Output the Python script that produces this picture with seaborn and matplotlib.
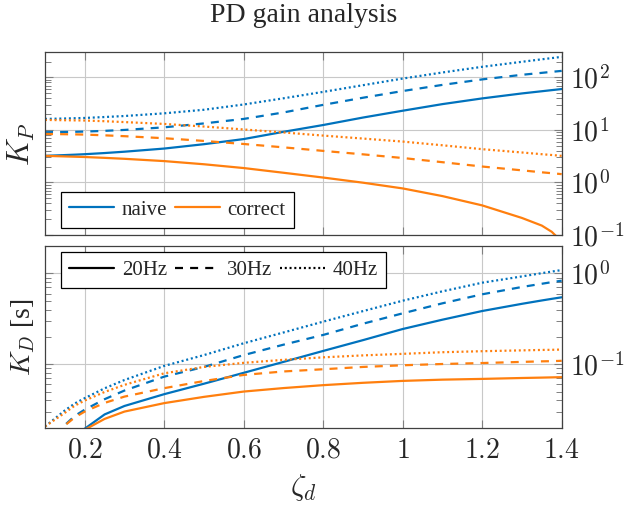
import matplotlib
matplotlib.use("Agg")
import matplotlib.pyplot as plt
from matplotlib.lines import Line2D
from matplotlib.ticker import FixedLocator, FuncFormatter, LogLocator, NullFormatter
import numpy as np
import pandas as pd
import seaborn as sns

# ---------------- data ----------------
zeta = [0.100, 0.150, 0.175, 0.200, 0.250, 0.300, 0.400, 0.500, 0.600, 0.700,
        0.800, 0.900, 1.000, 1.100, 1.200, 1.300, 1.350, 1.375, 1.400]

# K_P
kp_naive_20 = [3.21, 3.32, 3.38, 3.45, 3.63, 3.85, 4.42, 5.35, 6.7, 9.2,
               12.4, 17.2, 23.2, 31, 39.8, 49.5, 54.5, 57.2, 60]
kp_naive_30 = [9.04, 9.15, 9.22, 9.3, 9.6, 10.0, 11.2, 13.3, 16.2, 21.5,
               30, 41, 55, 72, 91.6, 112, 122, 127.5, 133]
kp_naive_40 = [16.2, 16.5, 16.7, 16.9, 17.6, 18.4, 20.7, 24.2, 30.5, 40,
               53, 71, 95, 124, 159, 198, 221, 233, 246]
kp_correct_20 = [3.21, 3.13, 3.09, 3.05, 2.94, 2.82, 2.55, 2.22, 1.88, 1.53,
                 1.24, 0.99, 0.77, 0.55, 0.366, 0.211, 0.151, 0.115, 0.075]
kp_correct_30 = [8.4, 8.28, 8.22, 8.15, 7.89, 7.6, 6.95, 6.17, 5.4, 4.66,
                 3.99, 3.43, 2.92, 2.43, 2.01, 1.70, 1.56, 1.50, 1.44]
kp_correct_40 = [15.5, 15.3, 15.2, 15.1, 14.65, 14.1, 13.0, 11.6, 10.2, 8.95,
                 7.8, 6.85, 6.0, 5.1, 4.3, 3.72, 3.45, 3.33, 3.21]

# K_D [s]
kd_naive_20 = [0.003, 0.008, 0.013, 0.0195, 0.028, 0.0347, 0.0468, 0.061, 0.0804, 0.106,
               0.140, 0.184, 0.244, 0.309, 0.385, 0.462, 0.503, 0.524, 0.545]
kd_naive_30 = [0.008, 0.0214, 0.027, 0.0316, 0.0412, 0.0513, 0.0730, 0.0933, 0.126, 0.164,
               0.210, 0.279, 0.363, 0.468, 0.588, 0.708, 0.768, 0.80, 0.83]
kd_naive_40 = [0.0206, 0.031, 0.037, 0.0423, 0.0543, 0.067, 0.0958, 0.126, 0.170, 0.2234,
               0.294, 0.384, 0.50, 0.634, 0.789, 0.925, 1.005, 1.046, 1.087]
kd_correct_20 = [0.003, 0.008, 0.013, 0.0190, 0.025, 0.0301, 0.0373, 0.0437, 0.050, 0.0546,
                 0.0588, 0.0624, 0.0655, 0.0676, 0.0689, 0.0705, 0.0712, 0.0716, 0.072]
kd_correct_30 = [0.008, 0.0212, 0.026, 0.0301, 0.0375, 0.044, 0.0545, 0.0653, 0.0762, 0.0832,
                 0.088, 0.0933, 0.0973, 0.1005, 0.103, 0.106, 0.1075, 0.108, 0.109]
kd_correct_40 = [0.0206, 0.0292, 0.035, 0.0398, 0.0495, 0.0593, 0.0794, 0.0933, 0.1035, 0.1117,
                 0.119, 0.125, 0.130, 0.1355, 0.139, 0.142, 0.1435, 0.144, 0.145]

methods = ["naive", "correct"]
freqs = ["20Hz", "30Hz", "40Hz"]
x_ticks = [0.2, 0.4, 0.6, 0.8, 1.0, 1.2, 1.4]

kp_series = {("naive", "20Hz"): kp_naive_20, ("naive", "30Hz"): kp_naive_30,
             ("naive", "40Hz"): kp_naive_40, ("correct", "20Hz"): kp_correct_20,
             ("correct", "30Hz"): kp_correct_30, ("correct", "40Hz"): kp_correct_40}
kd_series = {("naive", "20Hz"): kd_naive_20, ("naive", "30Hz"): kd_naive_30,
             ("naive", "40Hz"): kd_naive_40, ("correct", "20Hz"): kd_correct_20,
             ("correct", "30Hz"): kd_correct_30, ("correct", "40Hz"): kd_correct_40}


def long_frame(series):
    rows = []
    for (m, f), vals in series.items():
        for z, v in zip(zeta, vals):
            rows.append({"zeta": z, "value": v, "method": m, "freq": f})
    return pd.DataFrame(rows)


df_kp = long_frame(kp_series)
df_kd = long_frame(kd_series)

# ---------------- style ----------------
sns.set_theme(style="white")
plt.rcParams["font.family"] = ["Liberation Serif", "DejaVu Serif"]
plt.rcParams["mathtext.fontset"] = "cm"
plt.rcParams["font.size"] = 20
plt.rcParams["axes.linewidth"] = 0.9

BLUE = "#0072BD"
ORANGE = "#FF7F0E"
palette = {"naive": BLUE, "correct": ORANGE}
dashes = {"20Hz": "", "30Hz": (3.6, 3.2), "40Hz": (0.9, 1.25)}
LW = 1.6
GRID = "#c8c8c8"
TICKC = "#808080"

fig = plt.figure(figsize=(6.25, 5.07), dpi=100)
ax1 = fig.add_axes([0.072, 0.5365, 0.8267, 0.3603])
ax2 = fig.add_axes([0.072, 0.1564, 0.8267, 0.3584])

for ax, df in ((ax1, df_kp), (ax2, df_kd)):
    sns.lineplot(data=df, x="zeta", y="value", hue="method", style="freq",
                 hue_order=methods, style_order=freqs, palette=palette,
                 dashes=dashes, linewidth=LW, estimator=None, errorbar=None,
                 legend=False, ax=ax)
    ax.set_yscale("log")
    ax.set_xlim(0.1, 1.4)
    ax.xaxis.set_major_locator(FixedLocator(x_ticks))
    ax.yaxis.set_major_locator(LogLocator(base=10))
    ax.yaxis.set_minor_locator(LogLocator(base=10, subs=np.arange(2, 10)))
    ax.yaxis.set_minor_formatter(NullFormatter())
    ax.yaxis.set_major_formatter(FuncFormatter(lambda v, p: r"$10^{%d}$" % round(np.log10(v))))
    ax.grid(True, which="major", color=GRID, linewidth=0.8)
    ax.grid(False, which="minor")
    ax.set_axisbelow(True)
    ax.tick_params(axis="both", which="both", direction="in", color=TICKC,
                   left=True, right=True, top=True, bottom=True,
                   labelleft=False, labelright=True, labelsize=20, pad=6)
    ax.tick_params(axis="both", which="major", length=6, width=0.8)
    ax.tick_params(axis="y", which="minor", length=4, width=0.7)
    for s in ax.spines.values():
        s.set_color("#404040")
        s.set_linewidth(0.9)
    ax.set_xlabel("")

ax1.set_ylim(0.1, 300)
ax2.set_ylim(0.02, 2.0)
ax1.tick_params(axis="x", labelbottom=False)
ax2.xaxis.set_major_formatter(FuncFormatter(lambda v, p: r"$%g$" % v))
ax2.tick_params(axis="x", pad=8)

ax1.set_ylabel(r"$K_P$", fontsize=22, labelpad=6)
ax2.set_ylabel(r"$K_D$ [s]", fontsize=20, labelpad=6)
ax2.set_xlabel(r"$\zeta_d$", fontsize=22, labelpad=6)
ax1.set_title("PD gain analysis", fontsize=20, pad=22)

leg_kw = dict(fontsize=15, frameon=True, fancybox=False, framealpha=1,
              edgecolor="black", borderpad=0.4, handlelength=2.15,
              handletextpad=0.37, columnspacing=0.37, borderaxespad=0)
h1 = [Line2D([], [], color=palette[m], lw=LW) for m in methods]
l1 = ax1.legend(h1, methods, ncol=2, loc="lower left",
                bbox_to_anchor=(0.031, 0.038), **leg_kw)
l1.get_frame().set_linewidth(0.9)

h2 = [Line2D([], [], color="black", lw=LW, linestyle="-"),
      Line2D([], [], color="black", lw=LW, dashes=dashes["30Hz"]),
      Line2D([], [], color="black", lw=LW, dashes=dashes["40Hz"])]
l2 = ax2.legend(h2, freqs, ncol=3, loc="upper left",
                bbox_to_anchor=(0.031, 0.967), **leg_kw)
l2.get_frame().set_linewidth(0.9)

fig.savefig("out.png", dpi=100)
